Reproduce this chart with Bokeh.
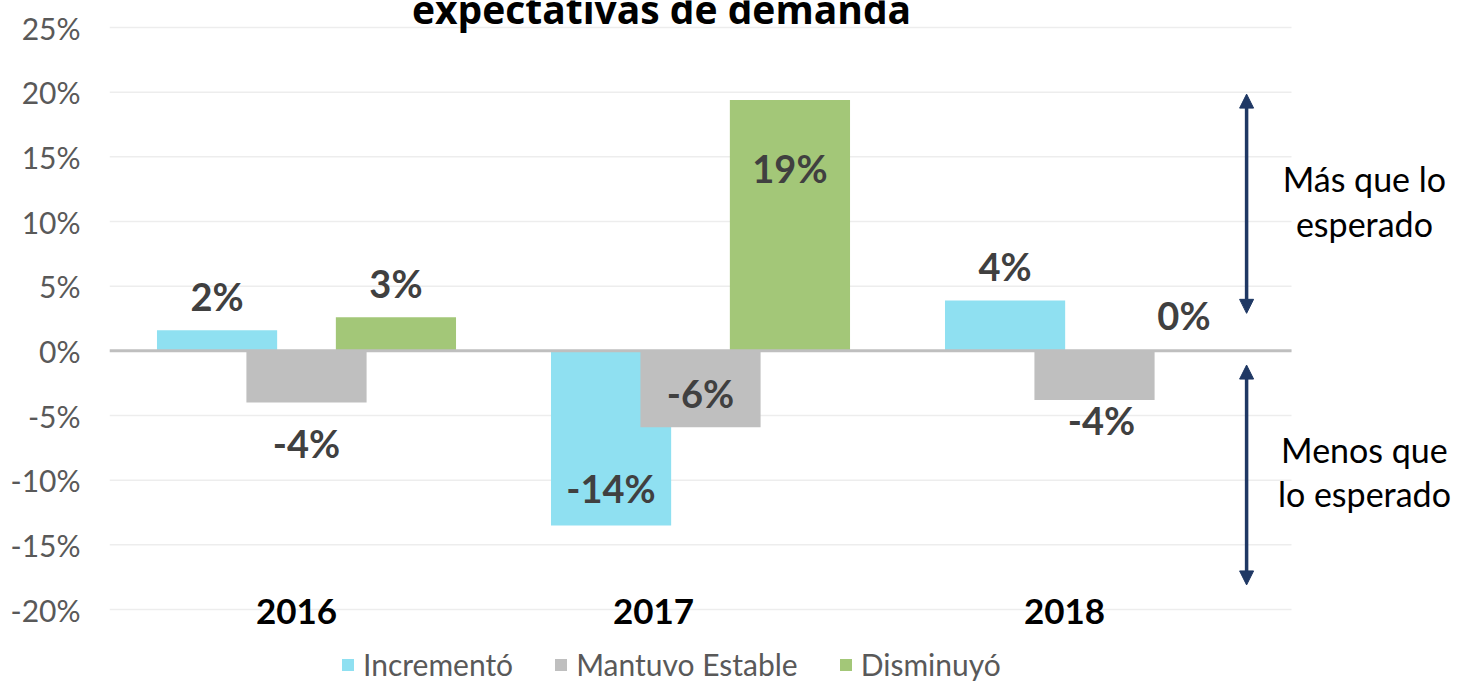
from bokeh.plotting import figure
from bokeh.models import (ColumnDataSource, Range1d, LabelSet, Label, Arrow,
                          NormalHead, Legend, LegendItem, PrintfTickFormatter, FixedTicker)
from bokeh.core.properties import value
from bokeh.embed import file_html
from bokeh.resources import INLINE

# ---------------- data ----------------
years = ["2016", "2017", "2018"]
series_names = ["Incrementó", "Mantuvo Estable", "Disminuyó"]
incremento = [1.6, -13.5, 3.9]
mantuvo = [-4.0, -5.9, -3.8]
disminuyo = [2.6, 19.4, 0.0]
y_ticks = [-20, -15, -10, -5, 0, 5, 10, 15, 20, 25]
title_text = "expectativas de demanda"
note_up = ["Más que lo", "esperado"]
note_down = ["Menos que", "lo esperado"]

# ---------------- styles / positions ----------------
colors = ["#8FE0F1", "#BFBFBF", "#A3C778"]
dodges = [-0.227, 0.0, 0.227]
bar_width = 0.305
label_dy = [[34, 37, 34], [-40, 34, -20], [34, -68, 36]]
label_dx = [[0, 0, 0], [0, 0, 7], [0, 0, 0]]
cat_dx = [-10, -47, -30]
navy = "#1F3864"
arrow_x = 2.886
note_x = 3.185
n = len(years)
cat_x = [i + 0.5 for i in range(n)]

p = figure(x_range=Range1d(0, 3.4365), y_range=Range1d(-25.567, 27.088),
           width=1463, height=681, output_backend="svg", toolbar_location=None,
           x_axis_location=None,
           min_border_left=109, min_border_right=0, min_border_top=0, min_border_bottom=0)
p.outline_line_color = None
p.xgrid.visible = False
p.ygrid.visible = False

ax = p.yaxis[0]
ax.ticker = FixedTicker(ticks=y_ticks)
ax.formatter = PrintfTickFormatter(format="%d%%")
ax.axis_line_color = None
ax.major_tick_line_color = None
ax.major_tick_out = 0
ax.major_tick_in = 0
ax.minor_tick_line_color = None
ax.major_label_standoff = 29
ax.major_label_text_font = "Lato"
ax.major_label_text_font_size = "30px"
ax.major_label_text_color = "#595959"

# horizontal gridlines limited to the category area
p.segment(x0=0, x1=n, y0=y_ticks, y1=y_ticks, line_color="#EDEDED", line_width=1.5)

items = []
all_vals = [incremento, mantuvo, disminuyo]
for k, (name, vals) in enumerate(zip(series_names, all_vals)):
    src = ColumnDataSource(dict(
        xpos=[c + dodges[k] for c in cat_x],
        val=vals,
        lab=[f"{round(v):d}%" for v in vals],
        dy=label_dy[k],
        dx=label_dx[k],
    ))
    r = p.vbar(x="xpos", top="val", bottom=0, width=bar_width, source=src,
               fill_color=colors[k], line_color=None)
    items.append(LegendItem(label=name, renderers=[r]))
    p.add_layout(LabelSet(x="xpos", y="val", text="lab", source=src,
                          x_offset="dx", y_offset="dy",
                          text_align="center", text_baseline="middle",
                          text_font=value("Lato"), text_font_style="bold",
                          text_font_size="38px", text_color="#404040"))

# zero axis line
p.segment(x0=[0], x1=[n], y0=[0], y1=[0], line_color="#BFBFBF", line_width=3)

# category labels
cat_src = ColumnDataSource(dict(x=cat_x, year=years, dx=cat_dx))
p.add_layout(LabelSet(x="x", y=-20, text="year", source=cat_src, x_offset="dx", y_offset=-2,
                      text_align="center", text_baseline="middle",
                      text_font=value("Lato"), text_font_style="bold",
                      text_font_size="35px", text_color="#000000"))

# title (cut at top, as in the reference)
p.add_layout(Label(x=1.401, y=26.46, text=title_text, text_align="center",
                   text_baseline="alphabetic", text_font="Open Sans", text_font_style="bold",
                   text_font_size="39px", text_color="#000000"))

# arrows
for ys, ye in [(2.9, 19.85), (-1.1, -18.1)]:
    p.add_layout(Arrow(start=NormalHead(size=14, fill_color=navy, line_color=navy),
                       end=NormalHead(size=14, fill_color=navy, line_color=navy),
                       x_start=arrow_x, y_start=ys, x_end=arrow_x, y_end=ye,
                       line_color=navy, line_width=3.5))

for txt, yy in zip(note_up + note_down, [13.33, 9.85, -7.63, -11.04]):
    p.add_layout(Label(x=note_x, y=yy, text=txt, text_align="center", text_baseline="middle",
                       text_font="Lato", text_font_size="34px", text_color="#000000"))

legend = Legend(items=items, orientation="horizontal", location=(231, -1),
                label_text_font="Lato", label_text_font_size="30px", label_text_color="#595959",
                glyph_width=15, glyph_height=15, label_standoff=8, spacing=40,
                padding=0, margin=0, border_line_color=None, background_fill_alpha=0)
p.add_layout(legend, "center")

open("out.html", "w").write(file_html(p, INLINE))
